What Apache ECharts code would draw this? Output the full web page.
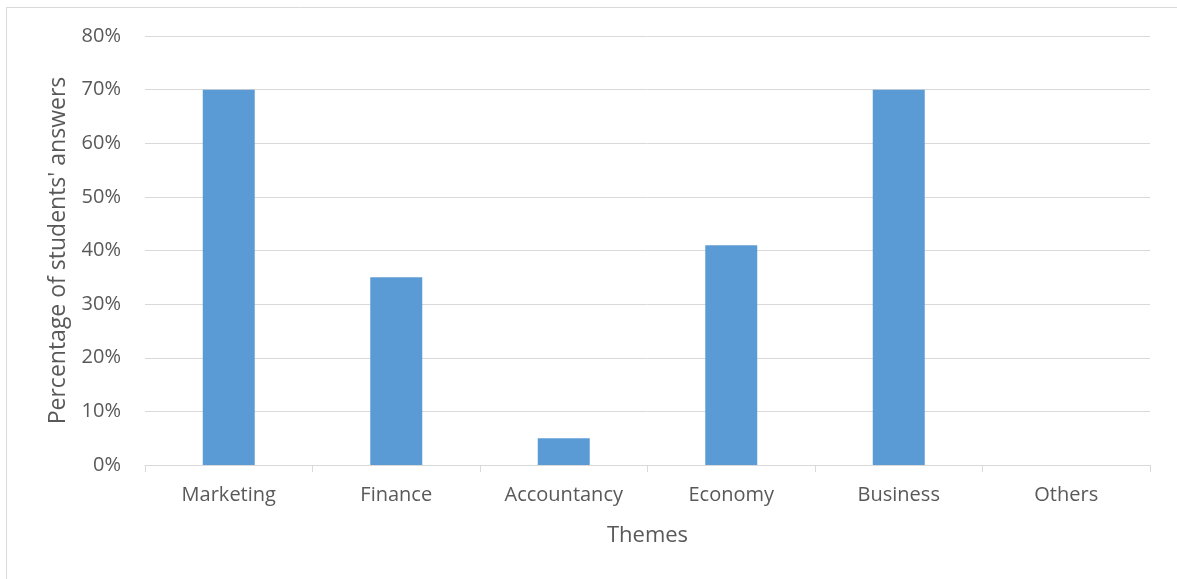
<!DOCTYPE html>
<html><head><meta charset="utf-8">
<script src="https://cdn.jsdelivr.net/npm/echarts@6/dist/echarts.min.js"></script>
<style>html,body{margin:0;padding:0;background:#fff}#c{width:1177px;height:579px}</style>
</head><body><div id="c"></div>
<script>
const categories = ['Marketing','Finance','Accountancy','Economy','Business','Others'];
const values = [70, 35, 5, 41, 70, 0];
const yTicks = [0,10,20,30,40,50,60,70,80];
const xTitle = 'Themes';
const yTitle = "Percentage of students' answers";

const chart = echarts.init(document.getElementById('c'));
const font = "'Open Sans', 'Noto Sans', sans-serif";
chart.setOption({
  animation: false,
  graphic: [{type:'rect', shape:{x:6.5,y:7.5,width:1180,height:600}, style:{fill:'none',stroke:'#d9d9d9',lineWidth:1}, silent:true}],
  grid: {left:145, right:27, top:36, bottom:114, containLabel:false},
  xAxis: {
    type:'category', data:categories,
    axisLine:{lineStyle:{color:'#d9d9d9', width:1}},
    axisTick:{show:true, length:7, alignWithLabel:false, lineStyle:{color:'#d9d9d9'}},
    axisLabel:{color:'#595959', fontSize:20, fontFamily:font, margin:20},
    name: xTitle, nameLocation:'middle', nameGap:60,
    nameTextStyle:{color:'#595959', fontSize:22, fontFamily:font}
  },
  yAxis: {
    type:'value', min:yTicks[0], max:yTicks[yTicks.length-1], interval:10,
    axisLine:{show:false}, axisTick:{show:false},
    splitLine:{lineStyle:{color:'#d9d9d9', width:1}},
    axisLabel:{color:'#595959', fontSize:20, fontFamily:font, margin:24, formatter: v => v + '%'},
    name: yTitle, nameLocation:'middle', nameGap:75, nameRotate:90,
    nameTextStyle:{color:'#595959', fontSize:23, fontFamily:font}
  },
  series: [{
    type:'bar', data:values, barWidth:52,
    itemStyle:{color:'#5b9bd5'}
  }]
});
</script></body></html>
